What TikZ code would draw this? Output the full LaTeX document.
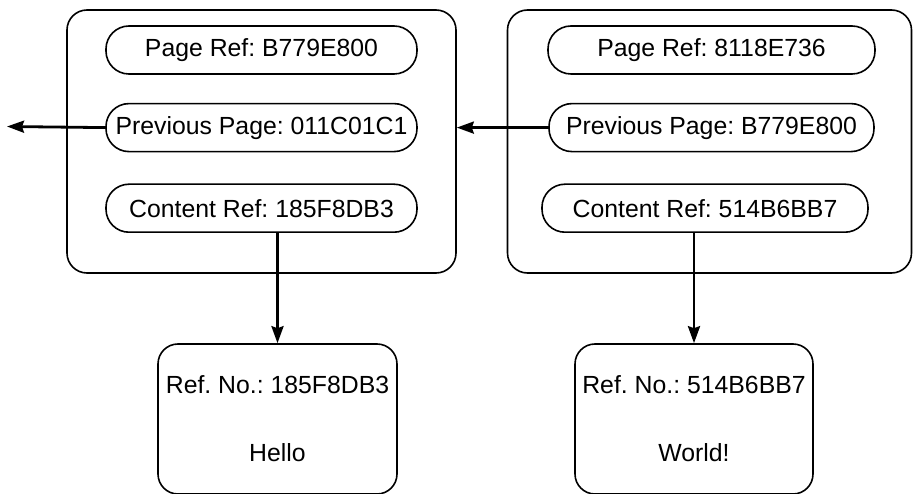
\documentclass[tikz,border=0pt]{standalone}
\usepackage{fontspec}
\setmainfont{Liberation Sans}
\usepackage{tikz}
\usetikzlibrary{arrows.meta, shapes, positioning}
\frenchspacing

\begin{document}
\begin{tikzpicture}[x=1pt,y=-1pt,>={Stealth[length=17pt,width=12pt,inset=2pt]},
                    font=\fontsize{24.8pt}{30pt}\selectfont]
				\tikzstyle{frame} = [draw, line width=1.6pt, rounded corners=20pt, inner sep=0pt, minimum height=263pt]
				\tikzstyle{field} = [draw, line width=1.6pt, rounded corners=23pt, inner sep=0pt, minimum height=48pt]
				\tikzstyle{block} = [draw, line width=1.6pt, rounded corners=20pt, inner sep=0pt, minimum height=150pt, align=center]
				\tikzstyle{link} = [->, line width=2.8pt]

				\useasboundingbox (0,0) rectangle (913,494);

				% page frames
				\node[frame, minimum width=389pt] (lframe) at (261.5,141.5) {};
				\node[frame, minimum width=404pt] (rframe) at (709.5,141.5) {};

				% fields of the left page
				\node[field, minimum width=311pt] (lpage) at (261.5,50) {Page Ref: B779E800};
				\node[field, minimum width=311pt] (lprev) [below=28pt of lpage] {Previous Page: 011C01C1};
				\node[field, minimum width=311pt] (lcont) [below=31pt of lprev] {Content Ref: 185F8DB3};

				% fields of the right page
				\node[field, minimum width=327pt] (rpage) at (711.5,50) {Page Ref: 8118E736};
				\node[field, minimum width=325pt] (rprev) [below=28pt of rpage] {Previous Page: B779E800};
				\node[field, minimum width=326pt] (rcont) [below=31pt of rprev, xshift=-6.5pt] {Content Ref: 514B6BB7};

				% content blocks
				\node[block, minimum width=239pt] (lblock) at (277.5,419) {Ref. No.: 185F8DB3\\[38pt]Hello};
				\node[block, minimum width=238pt] (rblock) at (694,419) {Ref. No.: 514B6BB7\\[38pt]World!};

				\coordinate (older) at (7,126.5);

				\draw[link] (lprev.west) -- (older);
				\draw[link] (rprev.west) -- (rprev.west -| lframe.east);
				\draw[link] (lblock.north |- lcont.south) -- (lblock.north);
				\draw[link] (rblock.north |- rcont.south) -- (rblock.north);
			\end{tikzpicture}
\end{document}
